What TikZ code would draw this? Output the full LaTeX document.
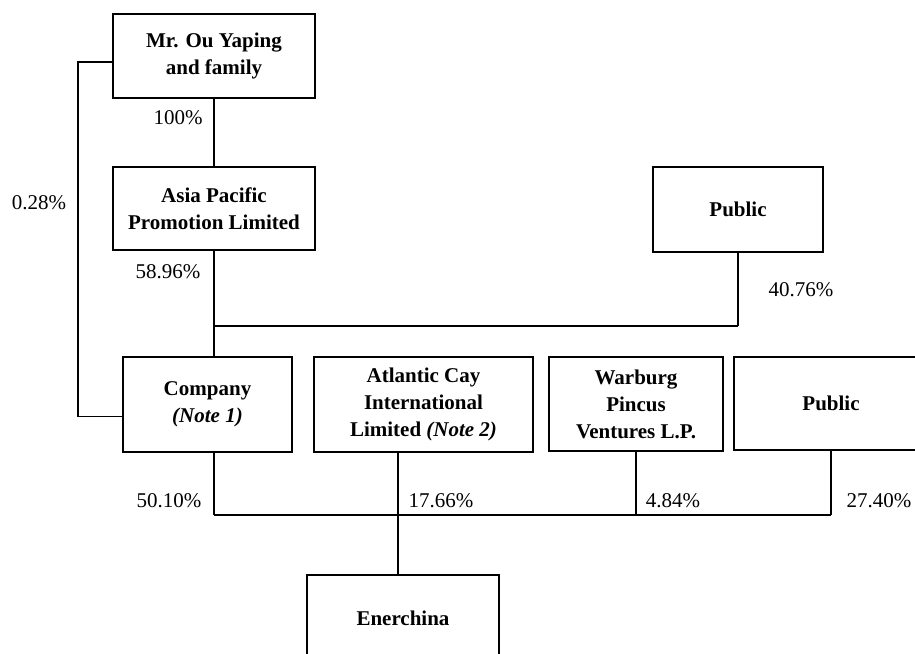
\documentclass[tikz,border=0pt]{standalone}
\usepackage{fontspec}
\setmainfont{Liberation Serif}
\begin{document}
\begin{tikzpicture}[x=1pt,y=-1pt,
  box/.style={draw, line width=1.6pt, font=\fontsize{21}{27}\selectfont\bfseries, align=center, inner sep=0pt},
  pct/.style={font=\fontsize{21}{27}\selectfont, inner sep=0pt},
  link/.style={line width=1.6pt}]
\useasboundingbox (0,0) rectangle (915,653);
\clip (0,0) rectangle (915,653);
\node[box, minimum width=202pt, minimum height=84pt] (ou) at (214,56) {Mr. Ou Yaping\\and family};
\node[box, minimum width=202pt, minimum height=83pt] (asia) at (214,208.5) {Asia Pacific\\Promotion Limited};
\node[box, minimum width=170pt, minimum height=85pt] (pub1) at (738,209.5) {Public};
\node[box, minimum width=169pt, minimum height=95pt] (co) at (207.5,404.5) {Company\\\textit{(Note 1)}};
\node[box, minimum width=219pt, minimum height=95pt] (at) at (423.5,404.5) {Atlantic Cay\\International\\Limited \textit{(Note 2)}};
\node[box, minimum width=174pt, minimum height=94pt] (wp) at (636,404) {Warburg\\Pincus\\Ventures L.P.};
\node[box, minimum width=194pt, minimum height=93pt] (pub2) at (831,403.5) {Public};
\node[box, minimum width=192pt, minimum height=86pt] (en) at (403,618) {Enerchina};
\coordinate (j1) at (0,326);
\coordinate (j2) at (0,515);
\coordinate (enc) at (398,515);
% connectors
\draw[link] (ou.south) -- (asia.north);
\draw[link] ([yshift=-6pt]ou.west) -- ++(-34,0) |- ([yshift=-12pt]co.west);
\draw[link] (asia.south) -- (asia.south |- co.north);
\draw[link] (pub1.south) -- (pub1.south |- j1);
\draw[link] (asia.south |- j1) -- (pub1.south |- j1);
\draw[link] (co.south -| asia.south) -- (asia.south |- j2);
\draw[link] (at.south -| enc) -- (en.north -| enc);
\draw[link] (wp.south) -- (wp.south |- j2);
\draw[link] (pub2.south) -- (pub2.south |- j2);
\draw[link] (asia.south |- j2) -- (pub2.south |- j2);
% labels
\node[pct] (l1) at (178,118) {100\%};
\node[pct] (l2) at (39,203) {0.28\%};
\node[pct] (l3) at (168,272) {58.96\%};
\node[pct] (l4) at (801,290) {40.76\%};
\node[pct] (l5) at (169,501) {50.10\%};
\node[pct] (l6) at (441,501) {17.66\%};
\node[pct] (l7) at (673,501) {4.84\%};
\node[pct] (l8) at (879,501) {27.40\%};
\end{tikzpicture}
\end{document}
